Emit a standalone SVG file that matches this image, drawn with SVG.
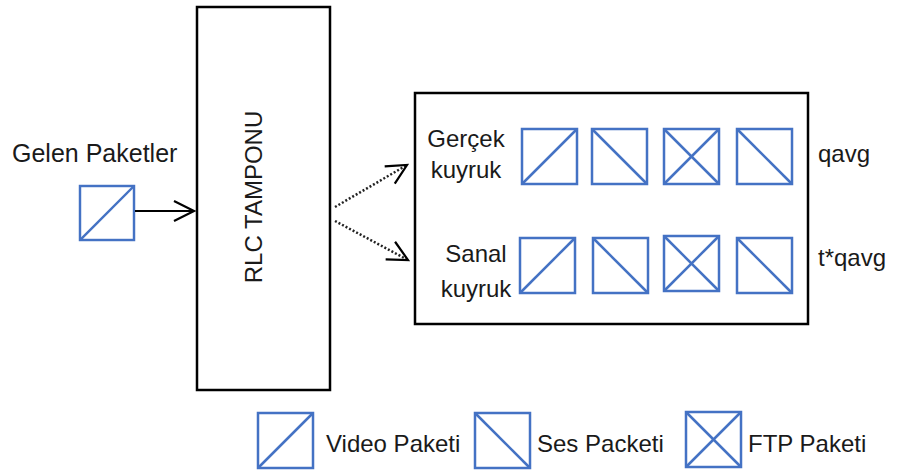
<svg xmlns="http://www.w3.org/2000/svg" width="901" height="472" viewBox="0 0 901 472">
  <style>
    .lbl { font-family: "Liberation Sans", Arial, sans-serif; font-size: 24px; fill: #1a1a1a; }
    .box { fill: #ffffff; stroke: #000000; stroke-width: 2.5; }
    .pkt { fill: #ffffff; stroke: #4472C4; stroke-width: 2.5; }
    .pkt-line { stroke: #4472C4; stroke-width: 2.5; fill: none; }
    .conn { stroke: #000000; stroke-width: 2.2; fill: none; }
    .dotted { stroke-dasharray: 2 2; stroke-width: 2.5; stroke: #222; }
  </style>
  <defs>
    <marker id="chevron" markerUnits="userSpaceOnUse" markerWidth="26" markerHeight="26" refX="21" refY="11" orient="auto" overflow="visible">
      <path d="M1,1 L21,11 L1,21" fill="none" stroke="#000" stroke-width="2.2"/>
    </marker>
    <!-- packet glyphs: 55x55 squares with diagonals -->
    <g id="video">
      <rect class="pkt" x="0" y="0" width="55" height="55"/>
      <line class="pkt-line" x1="0" y1="55" x2="55" y2="0"/>
    </g>
    <g id="audio">
      <rect class="pkt" x="0" y="0" width="55" height="55"/>
      <line class="pkt-line" x1="0" y1="0" x2="55" y2="55"/>
    </g>
    <g id="ftp">
      <rect class="pkt" x="0" y="0" width="55" height="55"/>
      <line class="pkt-line" x1="0" y1="0" x2="55" y2="55"/>
      <line class="pkt-line" x1="0" y1="55" x2="55" y2="0"/>
    </g>
  </defs>

  <rect width="901" height="472" fill="#ffffff"/>

  <!-- incoming packet -->
  <g id="incoming">
    <text class="lbl" x="12" y="162" style="font-size:25px">Gelen Paketler</text>
    <use href="#video" transform="translate(80,186) scale(0.982)"/>
  </g>

  <!-- RLC buffer -->
  <g id="rlc-buffer">
    <rect class="box" x="197" y="7" width="133" height="383"/>
    <text class="lbl" transform="translate(262,197) rotate(-90)" text-anchor="middle">RLC TAMPONU</text>
  </g>

  <!-- queues -->
  <g id="queues">
    <rect class="box" x="415" y="93" width="393" height="231"/>
    <g id="real-queue">
      <text class="lbl" x="466" y="147" text-anchor="middle">Gerçek</text>
      <text class="lbl" x="466" y="178" text-anchor="middle">kuyruk</text>
      <use href="#video" x="522" y="129"/>
      <use href="#audio" x="592" y="129"/>
      <use href="#ftp" x="664" y="129"/>
      <use href="#audio" x="737" y="129"/>
    </g>
    <g id="virtual-queue">
      <text class="lbl" x="476" y="262" text-anchor="middle">Sanal</text>
      <text class="lbl" x="476" y="297" text-anchor="middle">kuyruk</text>
      <use href="#video" x="520" y="238"/>
      <use href="#audio" x="593" y="238"/>
      <use href="#ftp" x="664" y="236"/>
      <use href="#audio" x="737" y="238"/>
    </g>
  </g>

  <g id="qavg-labels">
    <text class="lbl" x="818" y="162">qavg</text>
    <text class="lbl" x="818" y="266">t*qavg</text>
  </g>

  <!-- connectors -->
  <g id="connectors">
    <line class="conn" x1="135" y1="211" x2="194" y2="211" marker-end="url(#chevron)"/>
    <line class="conn dotted" x1="335" y1="207" x2="407" y2="165" marker-end="url(#chevron)"/>
    <line class="conn dotted" x1="335" y1="221" x2="408" y2="260" marker-end="url(#chevron)"/>
  </g>

  <!-- legend -->
  <g id="legend">
    <g id="legend-video">
      <use href="#video" x="258" y="413"/>
      <text class="lbl" x="326" y="452">Video Paketi</text>
    </g>
    <g id="legend-audio">
      <use href="#audio" x="475" y="413"/>
      <text class="lbl" x="537" y="452">Ses Packeti</text>
    </g>
    <g id="legend-ftp">
      <use href="#ftp" x="686" y="412"/>
      <text class="lbl" x="748" y="452">FTP Paketi</text>
    </g>
  </g>
</svg>
